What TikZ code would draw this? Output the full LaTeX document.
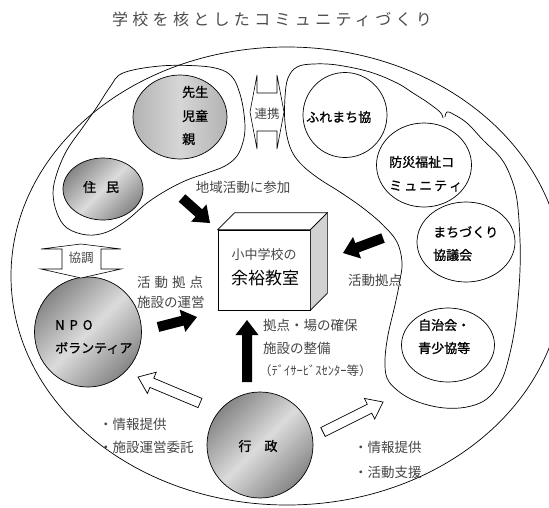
\documentclass[tikz,border=0pt]{standalone}
\usepackage{fontspec}
\usetikzlibrary{calc,shapes.geometric}
\newfontfamily\jp{Noto Sans CJK JP}
\newfontfamily\jpb[FakeBold=1]{Noto Sans CJK JP}
\newfontfamily\jpt[LetterSpace=27]{Noto Sans CJK JP}
\newcommand\blkarrow[3]{%
  \coordinate (tmph) at ($(#3)!15pt!(#2)$);
  \path[#1] ($(#2)!5pt!90:(#3)$) -- ($(tmph)!5pt!90:(#3)$) -- ($(tmph)!11.5pt!90:(#3)$) -- (#3)
    -- ($(tmph)!11.5pt!-90:(#3)$) -- ($(tmph)!5pt!-90:(#3)$) -- ($(#2)!5pt!-90:(#3)$) -- cycle;}
\tikzset{
  lbl/.style={font=\jp\fontsize{13.5}{14}\selectfont, text=black!72, inner sep=0pt},
  clbl/.style={font=\jpb\fontsize{13}{14}\selectfont, text=black, inner sep=0pt},
  blob/.style={draw=black, line width=0.7pt},
  circ/.style={ellipse, draw=black, line width=0.7pt, inner sep=0pt},
  metal/.style={left color=gray!95, right color=gray!95, middle color=gray!28, shading angle=45},
  blackarrow/.style={fill=black},
  hollowarrow/.style={fill=white, draw=black, line width=0.7pt, line join=miter},
  dblarrow/.style={fill=white, draw=black, line width=0.6pt}
}
\begin{document}
\begin{tikzpicture}[x=1pt,y=-1pt]
\path[use as bounding box] (0,0) rectangle (549,507);
\clip (0,0) rectangle (549,507);
\fill[white] (0,0) rectangle (549,507);

% title
\node[font=\jpt\fontsize{16}{17}\selectfont, text=black!70, inner sep=0pt] (title) at (272,19) {学校を核としたコミュニティづくり};

% outer ellipse
\node[circ, minimum width=552pt, minimum height=458pt] (outer) at (287,276) {};

% left blob
\draw[blob] plot[smooth cycle, tension=0.6] coordinates {
 (123,73) (160,66) (200,66) (222,70) (233,78) (239,91) (243,107) (245,127) (243,142) (237,156)
 (225,166) (207,173) (187,180) (167,190) (147,203) (127,220) (107,232) (87,235) (67,228)
 (57,213) (53,193) (57,173) (67,150) (83,127) (97,107) (110,87)};

% right blob (with gap at top)
\draw[blob] plot[smooth, tension=0.6] coordinates {
 (443,118) (440,112) (427,102) (413,93) (397,83) (370,72) (337,65) (313,64) (297,67) (288,78)
 (285,97) (285,123) (290,147) (300,163) (318,178) (340,192) (363,208) (383,225) (397,242)
 (402,262) (400,280) (395,305) (388,335) (385,360) (387,378) (397,390) (413,400) (437,407)
 (460,408) (480,403) (493,393) (503,377) (510,353) (515,327) (518,300) (520,270) (520,240)
 (517,200) (510,175) (500,157) (483,140) (467,123) (453,114) (447,112) (445,117)};

% circles
\node[circ, minimum width=94pt, minimum height=84pt, left color=gray!60, right color=gray!60, middle color=gray!32,
  path picture={\foreach \xx in {133,136,...,229} \draw[white, opacity=0.35, line width=1pt] (\xx,70) -- (\xx,165);}]
  (sensei) at (180,117) {};
\node[circ, metal, minimum width=80pt, minimum height=62pt] (jumin) at (103,189) {};
\node[circ, metal, minimum width=107pt, minimum height=110pt] (npo) at (88,332) {};
\node[circ, metal, minimum width=106pt, minimum height=106pt] (gyosei) at (260,445) {};
\node[circ, minimum width=84pt, minimum height=85pt] (fure) at (345,115) {};
\node[circ, minimum width=95pt, minimum height=84pt] (bosai) at (424,165) {};
\node[circ, minimum width=98pt, minimum height=80pt] (machi) at (466,242) {};
\node[circ, minimum width=93pt, minimum height=74pt] (jichi) at (448,345) {};

% circle labels
\node[clbl, anchor=west] (t-sensei1) at (182,92) {先生};
\node[clbl, anchor=west] (t-sensei2) at (182,116) {児童};
\node[clbl, anchor=west] (t-sensei3) at (182,139) {親};
\node[clbl] (t-jumin) at (101,187) {住\hspace{10pt}民};
\node[clbl, anchor=west] (t-npo1) at (55,325) {N\hspace{5pt}P\hspace{5pt}O};
\node[clbl, anchor=west] (t-npo2) at (55,348) {ボランティア};
\node[clbl] (t-gyosei) at (258,446) {行\hspace{13pt}政};
\node[clbl, anchor=west] (t-fure) at (306,117) {ふれまち協};
\node[clbl, anchor=west] (t-bosai1) at (389,162) {防災福祉コ};
\node[clbl, anchor=west] (t-bosai2) at (389,186) {ミ\hspace{2pt}ュ\hspace{2pt}ニ\hspace{2pt}テ\hspace{2pt}ィ};
\node[clbl, anchor=west] (t-machi1) at (433,232) {まちづくり};
\node[clbl, anchor=west] (t-machi2) at (433,255) {協議会};
\node[clbl, anchor=west] (t-jichi1) at (418,325) {自治会・};
\node[clbl, anchor=west] (t-jichi2) at (418,348) {青少協等};

% cube (spare classroom)
\node[draw=black, line width=0.7pt, fill=white, minimum width=92pt, minimum height=80pt, inner sep=0pt] (box) at (264,270) {};
\draw[line width=0.7pt, fill=white] (box.north west) -- ++(17,-17) -- ($(box.north east)+(17,-17)$) -- (box.north east) -- cycle;
\draw[line width=0.7pt, fill=gray!35] (box.north east) -- ++(17,-17) -- ($(box.south east)+(17,-17)$) -- (box.south east) -- cycle;
\node[lbl, font=\jp\fontsize{13}{14}\selectfont] (t-box1) at (264,255) {小中学校の};
\node[lbl, font=\jp\fontsize{17}{18}\selectfont, text=black] (t-box2) at (265,278) {余裕教室};

% double arrows
\draw[dblarrow] (257,93) -- (257,75) -- (250,112) -- (257,149) -- (257,131) -- (277,131) -- (277,149)
  -- (284,112) -- (277,75) -- (277,93) -- cycle;
\node[lbl, font=\jp\fontsize{12.5}{13}\selectfont] (t-renkei) at (267,114) {連携};
\draw[dblarrow] (62,249) -- (41,249) -- (81,244) -- (121,249) -- (101,249) -- (101,269) -- (121,269)
  -- (81,278) -- (41,269) -- (62,269) -- cycle;
\node[lbl, font=\jp\fontsize{12.5}{13}\selectfont] (t-kyocho) at (81,258) {協調};

% arrows
\coordinate (a1s) at (182,198); \coordinate (a1e) at (210,223);
\coordinate (a2s) at (383,238); \coordinate (a2e) at (343,253);
\coordinate (a3s) at (158,327); \coordinate (a3e) at (197,317);
\coordinate (a4s) at (247,382); \coordinate (a4e) at (247,320);
\coordinate (h1s) at (200,403); \coordinate (h1e) at (138,377);
\coordinate (h2s) at (323,432); \coordinate (h2e) at (383,402);
\blkarrow{blackarrow}{a1s}{a1e}
\blkarrow{blackarrow}{a2s}{a2e}
\blkarrow{blackarrow}{a3s}{a3e}
\blkarrow{blackarrow}{a4s}{a4e}
\blkarrow{hollowarrow}{h1s}{h1e}
\blkarrow{hollowarrow}{h2s}{h2e}

% labels
\node[lbl] (t-chiiki) at (243,187) {地域活動に参加};
\node[lbl, anchor=west] (t-kyoten1) at (137,282) {\makebox[66pt][s]{活\hfill 動\hfill 拠\hfill 点}};
\node[lbl, anchor=west] (t-kyoten2) at (137,302) {施設の運営};
\node[lbl, anchor=west] (t-kyoten3) at (348,280) {活動拠点};
\node[lbl, anchor=west] (t-ba1) at (263,325) {拠点・場の確保};
\node[lbl, anchor=west] (t-ba2) at (263,348) {施設の整備};
\node[lbl, anchor=west, font=\jp\fontsize{12.5}{13}\selectfont] (t-ba3) at (259,371) {（ﾃﾞｲｻｰﾋﾞｽｾﾝﾀｰ等）};
\node[lbl, anchor=west] (t-info1) at (99,424) {・情報提供};
\node[lbl, anchor=west] (t-info2) at (99,447) {・施設運営委託};
\node[lbl, anchor=west] (t-info3) at (354,447) {・情報提供};
\node[lbl, anchor=west] (t-info4) at (354,472) {・活動支援};
\end{tikzpicture}
\end{document}
